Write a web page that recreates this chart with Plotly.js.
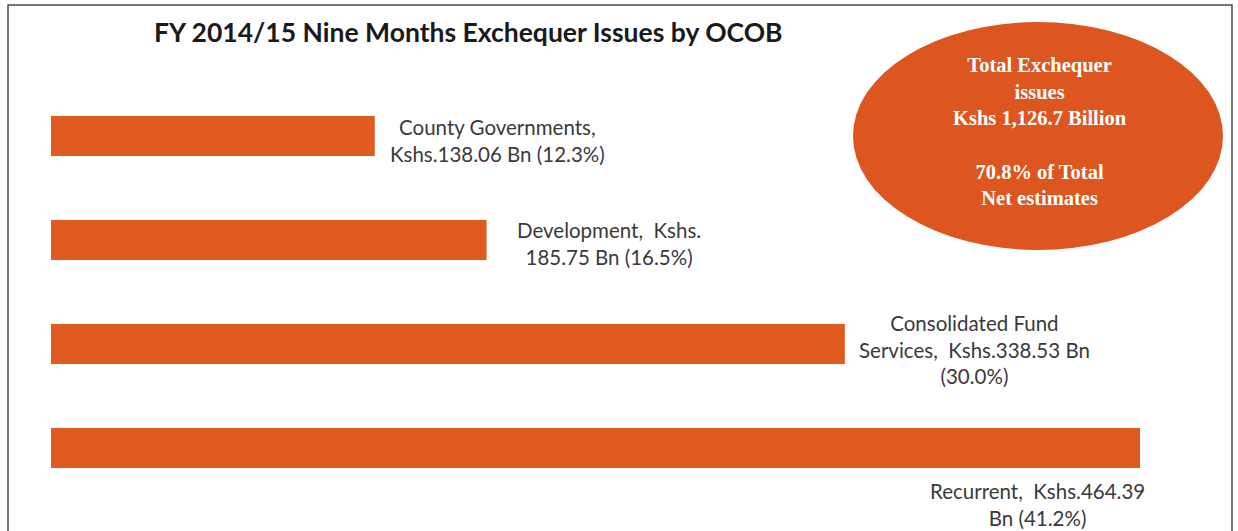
<!DOCTYPE html>
<html>
<head>
<meta charset="utf-8">
<script src="https://cdn.plot.ly/plotly-3.0.1.min.js"></script>
<style>html,body{margin:0;padding:0;background:#fff;}#chart{width:1238px;height:531px;}</style>
</head>
<body>
<div id="chart"></div>
<script>
// Data
const categories = ["County Governments", "Development", "Consolidated Fund Services", "Recurrent"];
const valuesBn = [138.06, 185.75, 338.53, 464.39];
const sharePct = [12.3, 16.5, 30.0, 41.2];
const labelTexts = [
  "County Governments,<br>Kshs.138.06 Bn (12.3%)",
  "Development,  Kshs.<br>185.75 Bn (16.5%)",
  "Consolidated Fund<br>Services,  Kshs.338.53 Bn<br>(30.0%)",
  "Recurrent,  Kshs.464.39<br>Bn (41.2%)"
];
const titleText = "FY 2014/15 Nine Months Exchequer Issues by OCOB";
const totalText = "Total Exchequer<br>issues<br>Kshs 1,126.7 Billion<br><br>70.8% of Total<br>Net estimates";

const W = 1238, H = 531;
const pxPerBn = 2.345;
const x0px = 51;
const xRange = [-x0px / pxPerBn, (W - x0px) / pxPerBn];
const rowPx = 104, firstRowPx = 136;
const yRange = [(H - firstRowPx) / rowPx, -firstRowPx / rowPx];

const orange = "#E15A1F";
const labelFont = {family: "Lato, 'Open Sans', sans-serif", size: 20.5, color: "#3a3a3a"};

const labelShift = [
  {xs: 123, ys: -4},
  {xs: 122, ys: -3},
  {xs: 130, ys: -5},
  {xs: -102, ys: -56}
];

const annotations = categories.map((c, i) => ({
  x: valuesBn[i], y: c, xref: "x", yref: "y",
  text: labelTexts[i], showarrow: false,
  xanchor: "center", yanchor: "middle", align: "center",
  xshift: labelShift[i].xs, yshift: labelShift[i].ys,
  font: labelFont
}));

annotations.push({
  x: 468 / W, y: 1 - 32 / H, xref: "paper", yref: "paper",
  text: "<b>" + titleText + "</b>", showarrow: false,
  xanchor: "center", yanchor: "middle",
  font: {family: "Lato, 'Open Sans', sans-serif", size: 26.5, color: "#1a1a1a"}
});
annotations.push({
  x: 1040 / W, y: 1 - 131 / H, xref: "paper", yref: "paper",
  text: "<b>" + totalText.split("<br>").join("</b><br><b>") + "</b>", showarrow: false,
  xanchor: "center", yanchor: "middle", align: "center",
  font: {family: "'Liberation Serif', 'DejaVu Serif', serif", size: 20.5, color: "#ffffff"}
});

const trace = {
  type: "bar", orientation: "h",
  x: valuesBn, y: categories,
  width: 0.385,
  marker: {color: orange, line: {width: 0}},
  hoverinfo: "skip"
};

const layout = {
  width: W, height: H,
  margin: {l: 0, r: 0, t: 0, b: 0},
  paper_bgcolor: "#ffffff", plot_bgcolor: "#ffffff",
  showlegend: false,
  xaxis: {range: xRange, showgrid: false, zeroline: false, showticklabels: false, showline: false, fixedrange: true},
  yaxis: {type: "category", categoryorder: "array", categoryarray: categories, range: yRange,
          showgrid: false, zeroline: false, showticklabels: false, showline: false, fixedrange: true},
  shapes: [
    {type: "rect", xref: "paper", yref: "paper", x0: 8 / W, x1: 1232 / W, y0: -0.05, y1: 1 - 5 / H,
     line: {color: "#4a4a4a", width: 1.5}, fillcolor: "rgba(0,0,0,0)", layer: "below"},
    {type: "circle", xref: "paper", yref: "paper", x0: 853 / W, x1: 1223 / W, y0: 1 - 250 / H, y1: 1 - 22 / H,
     line: {width: 0}, fillcolor: "#DD5620", layer: "below"}
  ],
  annotations: annotations
};

Plotly.newPlot("chart", [trace], layout, {staticPlot: true, displayModeBar: false});
</script>
</body>
</html>
